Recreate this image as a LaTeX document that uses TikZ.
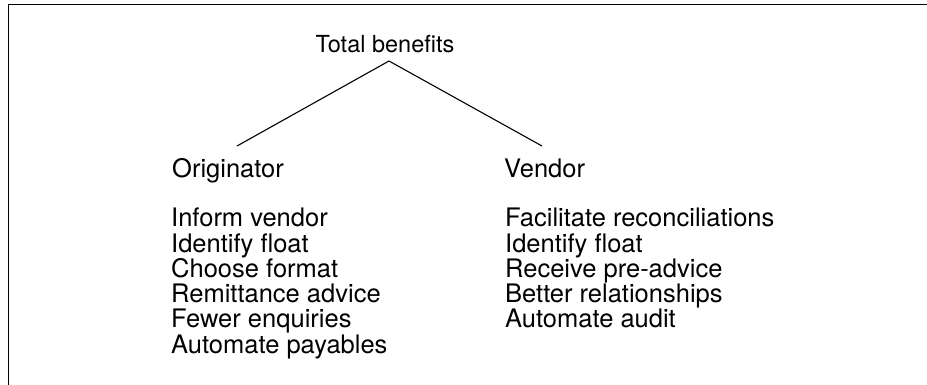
\documentclass[tikz,border=0pt]{standalone}
\usepackage{fontspec}
\setmainfont{TeX Gyre Heros}
\begin{document}
\begin{tikzpicture}[x=1pt,y=-1pt,
  frameline/.style={line width=1.4pt, black},
  branch/.style={line width=1.1pt, black},
  heading/.style={anchor=base, inner sep=0pt, font=\fontsize{23.5}{28}\selectfont},
  entry/.style={anchor=base west, inner sep=0pt, font=\fontsize{25.5}{30}\selectfont}]
  \useasboundingbox (0,0) rectangle (927,385);
  % open frame: left and top edges
  \draw[frameline] (8.5,385) -- (8.5,4.5) -- (927,4.5);

  % root and the two branches
  \node[heading] (total) at (385,52.5) {Total benefits};
  \node[entry] (orig) at (172,178) {Originator};
  \node[entry] (vend) at (504,178) {Vendor};
  \coordinate (apex) at (389,61);
  \coordinate (origtop) at (237,146);
  \coordinate (vendtop) at (542,146);
  \draw[branch] (origtop) -- (apex) -- (vendtop);

  % originator benefits
  \foreach \t [count=\i] in {Inform vendor, Identify float, Choose format,
      Remittance advice, Fewer enquiries, Automate payables}
    \node[entry] (o\i) at (171,{226.7+25.3*(\i-1)}) {\t};

  % vendor benefits
  \foreach \t [count=\i] in {Facilitate reconciliations, Identify float,
      Receive pre-advice, Better relationships, Automate audit}
    \node[entry] (v\i) at (505,{226.7+25.3*(\i-1)}) {\t};
\end{tikzpicture}
\end{document}
